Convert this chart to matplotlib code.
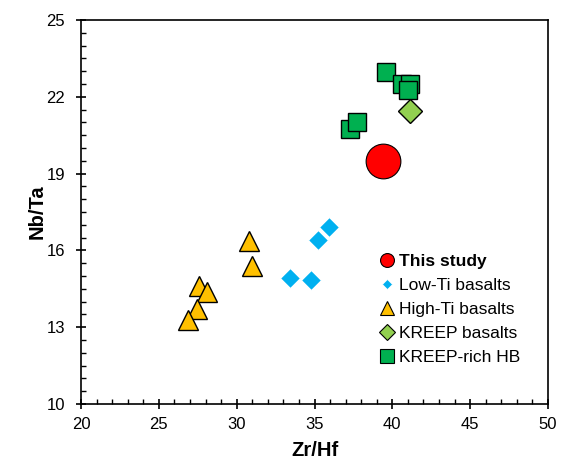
import matplotlib.pyplot as plt
from matplotlib.lines import Line2D
from matplotlib.ticker import MultipleLocator

plt.rcParams['font.family'] = ['Liberation Sans', 'DejaVu Sans']

# this study
study_x = [39.4]
study_y = [19.5]

# low-Ti basalts
lowti_x = [35.9, 35.25, 33.45, 34.8]
lowti_y = [16.9, 16.4, 14.92, 14.86]

# high-Ti basalts
highti_x = [30.8, 30.98, 27.55, 28.1, 27.45, 26.87]
highti_y = [16.38, 15.4, 14.62, 14.39, 13.72, 13.3]

# KREEP basalts
kreep_x = [41.13]
kreep_y = [21.45]

# KREEP-rich HB
hb_x = [37.3, 37.7, 39.59, 40.62, 41.13, 41.0]
hb_y = [20.73, 21.0, 22.97, 22.5, 22.5, 22.27]

yticks = [10, 13, 16, 19, 22, 25]

fig = plt.figure(figsize=(5.68, 4.59), dpi=100)
ax = fig.add_axes([0.1426, 0.1198, 0.8222, 0.8366])

ax.plot(highti_x, highti_y, '^', ms=15, mfc='#FFC000', mec='black', mew=1, ls='none')
ax.plot(lowti_x, lowti_y, 'D', ms=10.5, mfc='#00B0F0', mec='white', mew=0.8, ls='none')
ax.plot(hb_x, hb_y, 's', ms=12.5, mfc='#00B050', mec='black', mew=1, ls='none')
ax.plot(kreep_x, kreep_y, 'D', ms=12, mfc='#92D050', mec='black', mew=1, ls='none')
ax.plot(study_x, study_y, 'o', ms=25, mfc='#FF0000', mec='black', mew=0.8, ls='none')

ax.set_xlim(20, 50)
ax.set_ylim(10, 25)
ax.xaxis.set_major_locator(MultipleLocator(5))
ax.xaxis.set_minor_locator(MultipleLocator(1))
ax.set_yticks(yticks)
ax.yaxis.set_minor_locator(MultipleLocator(0.5))
ax.tick_params(which='major', direction='inout', length=7, width=1.2, labelsize=12)
ax.tick_params(axis='x', which='major', pad=6)
ax.tick_params(axis='y', which='major', pad=8)
ax.tick_params(which='minor', direction='in', length=3.5, width=1)
for sp in ax.spines.values():
    sp.set_linewidth(1.2)

ax.set_xlabel('Zr/Hf', fontsize=14.5, fontweight='bold', labelpad=6)
ax.set_ylabel('Nb/Ta', fontsize=14.5, fontweight='bold', labelpad=0)

handles = [
    Line2D([], [], marker='o', ls='none', ms=10, mfc='#FF0000', mec='black', mew=0.8),
    Line2D([], [], marker='D', ls='none', ms=5, mfc='#00B0F0', mec='white', mew=0.5),
    Line2D([], [], marker='^', ls='none', ms=10, mfc='#FFC000', mec='black', mew=0.8),
    Line2D([], [], marker='D', ls='none', ms=8, mfc='#92D050', mec='black', mew=0.8),
    Line2D([], [], marker='s', ls='none', ms=9.5, mfc='#00B050', mec='black', mew=0.8),
]
labels = ['This study', 'Low-Ti basalts', 'High-Ti basalts', 'KREEP basalts', 'KREEP-rich HB']
leg = ax.legend(handles, labels, loc='upper left', bbox_to_anchor=(0.626, 0.41),
                frameon=False, fontsize=12.5, handlelength=0.8, handletextpad=0.25,
                labelspacing=0.51, borderaxespad=0)
leg.get_texts()[0].set_fontweight('bold')

plt.savefig('out.png', dpi=100)
